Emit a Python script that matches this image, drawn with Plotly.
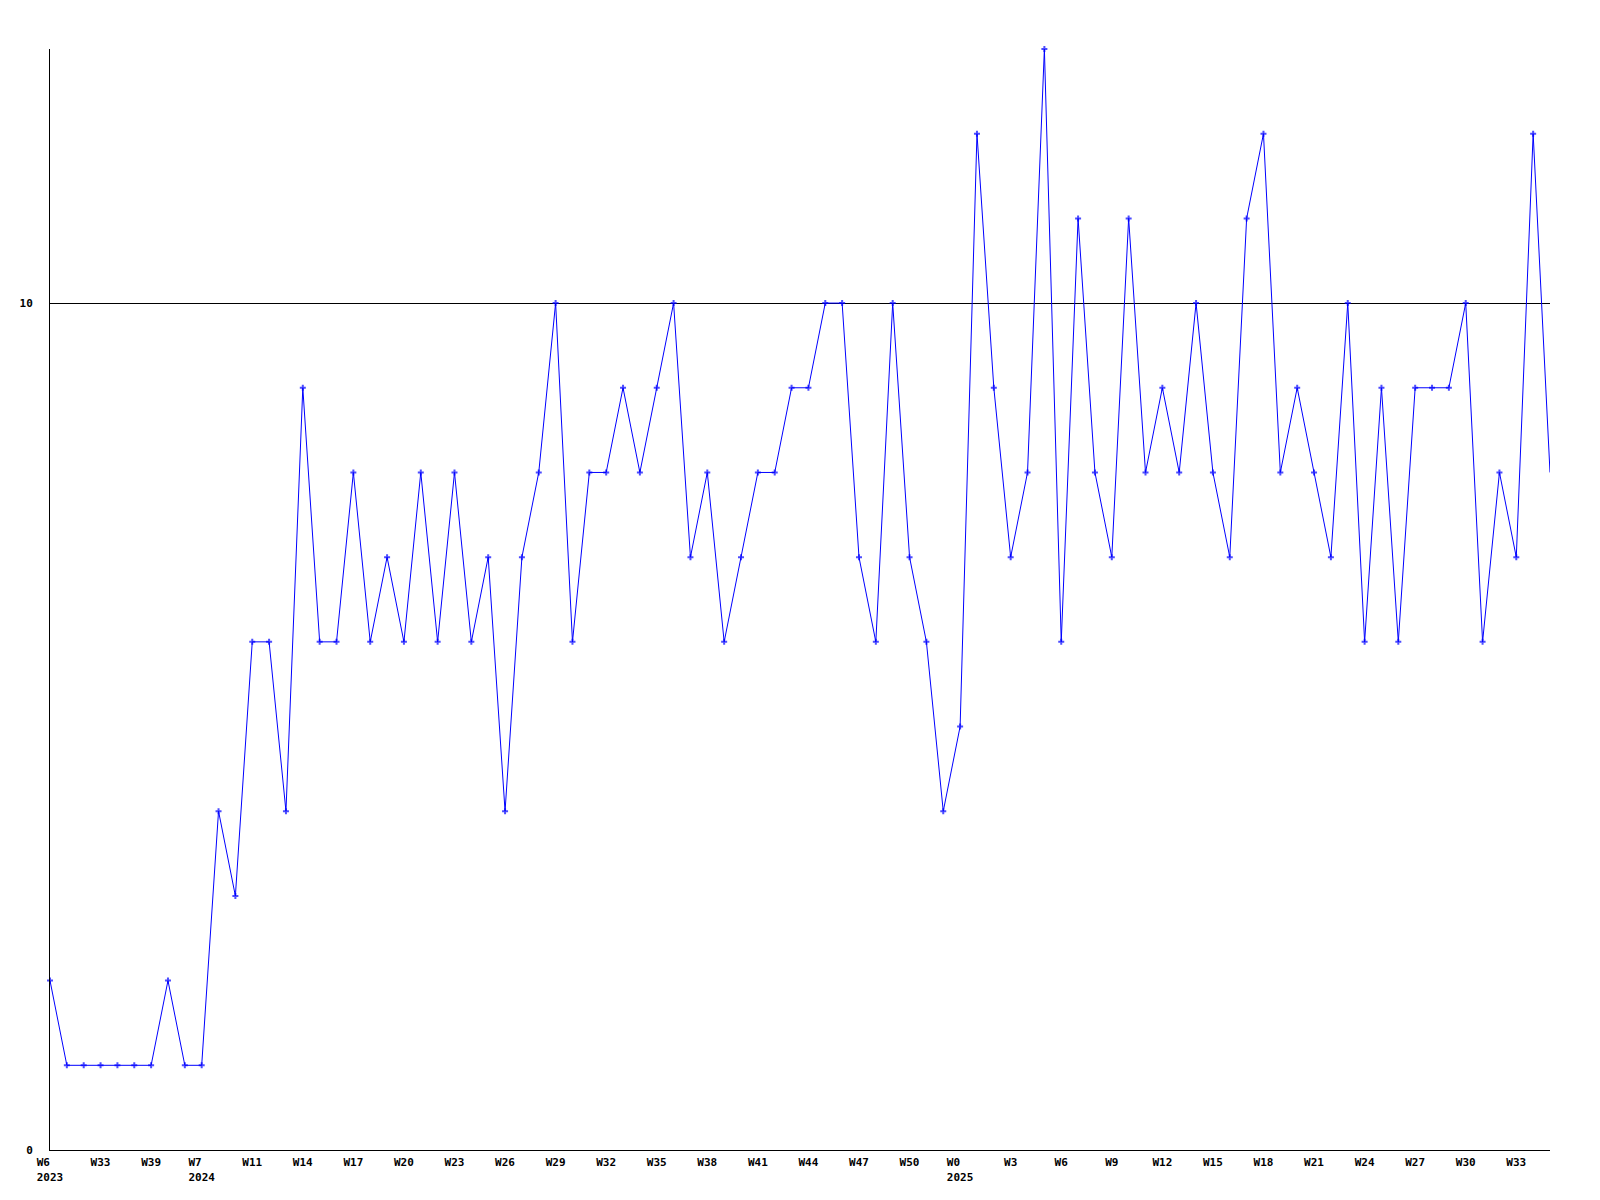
import plotly.graph_objects as go

values = [2, 1, 1, 1, 1, 1, 1, 2, 1, 1,
          4, 3, 6, 6, 4, 9, 6, 6, 8, 6,
          7, 6, 8, 6, 8, 6, 7, 4, 7, 8,
          10, 6, 8, 8, 9, 8, 9, 10, 7, 8,
          6, 7, 8, 8, 9, 9, 10, 10, 7, 6,
          10, 7, 6, 4, 5, 12, 9, 7, 8, 13,
          6, 11, 8, 7, 11, 8, 9, 8, 10, 8,
          7, 11, 12, 8, 9, 8, 7, 10, 6, 9,
          6, 9, 9, 9, 10, 6, 8, 7, 12, 8]

NB = "\u00a0"
tick_labels = ["W6" + NB * 2 + "<br>2023", "W33", "W39", "W7" + NB * 2 + "<br>2024",
               "W11", "W14", "W17", "W20",
               "W23", "W26", "W29", "W32", "W35", "W38", "W41", "W44", "W47", "W50",
               "W0" + NB * 2 + "<br>2025", "W3", "W6", "W9", "W12", "W15", "W18", "W21", "W24",
               "W27", "W30", "W33"]

x_idx = list(range(len(values)))
tick_pos = [i * 3 for i in range(len(tick_labels))]
marker_sizes = [5] * (len(values) - 1) + [0]

font = dict(family="DejaVu Sans Mono", size=11, color="black", weight="bold")

fig = go.Figure()
fig.add_trace(go.Scatter(
    x=x_idx, y=values, mode="lines+markers",
    line=dict(color="#0000ff", width=1),
    marker=dict(symbol="cross", size=marker_sizes, color="#0000ff", line=dict(width=0)),
    cliponaxis=False, hoverinfo="y",
))

fig.update_layout(
    width=1600, height=1200,
    margin=dict(l=42, r=58, t=41, b=58, autoexpand=False),
    paper_bgcolor="white", plot_bgcolor="white",
    showlegend=False,
    font=font,
    xaxis=dict(
        range=[0, len(values) - 1], tickvals=tick_pos, ticktext=tick_labels,
        showgrid=False, zeroline=False, showline=True, linecolor="black", linewidth=1,
        ticks="", tickfont=font, ticklabelstandoff=2,
    ),
    yaxis=dict(
        range=[0, 13], tickvals=[0, 10], ticktext=["0", "10"],
        showgrid=True, gridcolor="black", gridwidth=1, zeroline=False,
        showline=True, linecolor="black", linewidth=1,
        ticks="", tickfont=font, ticklabelstandoff=14,
    ),
)

fig.write_html("out.html")
